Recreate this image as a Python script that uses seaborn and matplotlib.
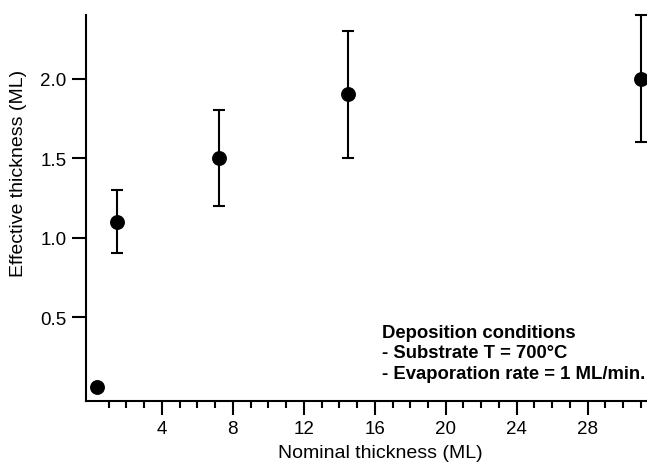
import matplotlib
matplotlib.use("Agg")
import matplotlib.pyplot as plt
import seaborn as sns
import pandas as pd

nominal = [0.37, 1.45, 7.2, 14.5, 31.0]
effective = [0.06, 1.10, 1.50, 1.90, 2.00]
err = [0.0, 0.20, 0.30, 0.40, 0.40]
xticks = [4, 8, 12, 16, 20, 24, 28]
yticks = [0.5, 1.0, 1.5, 2.0]
notes = ["Deposition conditions", "- Substrate T = 700°C", "- Evaporation rate = 1 ML/min."]

sns.set_style("ticks")
plt.rcParams['font.family'] = ['Liberation Sans', 'DejaVu Sans']

df = pd.DataFrame({"nominal": nominal, "effective": effective, "err": err})

W, H = 647, 464
fig = plt.figure(figsize=(W / 100, H / 100), dpi=100)
L, R, B, T = 86, 647, 401.5, 16
ax = fig.add_axes([L / W, 1 - B / H, (R - L) / W, (B - T) / H])

ax.errorbar(df["nominal"], df["effective"], yerr=df["err"], fmt="none",
            ecolor="black", elinewidth=1.5, capsize=4.5, capthick=1.5,
            clip_on=False, zorder=2)
sns.scatterplot(data=df, x="nominal", y="effective", ax=ax, color="black",
                s=115, edgecolor="black", linewidth=0, zorder=3, clip_on=True)

ax.set_xlim(-0.27, 31.34)
ax.set_ylim(-0.025, 2.40)
ax.set_xticks(xticks)
ax.set_xticks(range(1, 32), minor=True)
ax.set_yticks(yticks)
ax.set_yticklabels([f"{v:.1f}" for v in yticks])

for s in ["top", "right"]:
    ax.spines[s].set_visible(False)
for s in ["left", "bottom"]:
    ax.spines[s].set_linewidth(1.5)
    ax.spines[s].set_color("black")

ax.tick_params(axis="both", which="major", direction="out", length=10, width=1.5,
               color="black", labelsize=13.5, labelcolor="black", pad=4)
ax.tick_params(axis="x", which="minor", direction="out", length=5, width=1.5, color="black")

ax.set_xlabel("Nominal thickness (ML)", fontsize=14, color="black")
ax.set_ylabel("Effective thickness (ML)", fontsize=14, color="black")
ax.xaxis.set_label_coords((380 - L) / (R - L), (B - 445) / (B - T))
ax.yaxis.set_label_coords((27 - L) / (R - L), (B - 173) / (B - T))

baselines = [338, 358, 379]
for txt, yb in zip(notes, baselines):
    fig.text(382 / W, 1 - yb / H, txt, fontsize=13.3, fontweight="bold",
             ha="left", va="baseline", color="black")

fig.savefig("out.png", dpi=100)
